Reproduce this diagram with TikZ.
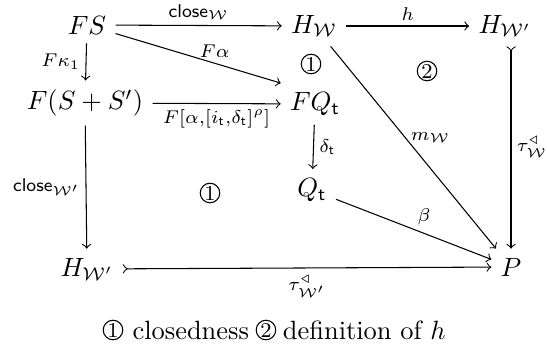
\documentclass[tikz,border=0pt]{standalone}
\usepackage{amsmath,amssymb}
\usetikzlibrary{arrows.meta,positioning,calc}
\newcommand{\clo}{\mathsf{close}}
\newcommand{\tr}{\mathsf{t}}
\begin{document}
\begin{tikzpicture}[x=.0133cm,y=-.0133cm,>=to,
  lbl/.style={font=\scriptsize,inner sep=2pt},
  cell/.style={circle,draw,inner sep=0pt,minimum size=7.4pt,font=\footnotesize}]
\useasboundingbox (0,0) rectangle (547,347);
% objects
\node (fs) at (87,25) {$FS$};
\node (hw) at (314,26) {$H_{\mathcal{W}}$};
\node (hwp) at (505,26) {$H_{\mathcal{W}'}$};
\node (fss) at (85,103) {$F(S+S')$};
\node (fq) at (315,104) {$FQ_{\tr}$};
\node (q) at (312,190) {$Q_{\tr}$};
\node (hwb) at (87,269) {$H_{\mathcal{W}'}$};
\node (p) at (511,267) {$P$};
% arrows
\draw[->] (fs) -- node[lbl,above] {$\clo_{\mathcal{W}}$} (hw);
\draw[->] (hw) -- node[lbl,above] {$h$} (hwp);
\draw[->] (fs) -- node[lbl,above,pos=.6] {$F\alpha$} (fq.north west);
\draw[->] (fs) -- node[lbl,left] {$F\kappa_1$} (fss);
\draw[->] (fss) -- node[below,inner sep=2pt] {$\scriptstyle F[\alpha,[i_{\tr},\delta_{\tr}]^{\rho}]$} (fq);
\draw[->] (fss) -- node[lbl,left] {$\clo_{\mathcal{W}'}$} (hwb);
\draw[->] (fq) -- node[lbl,right] {$\delta_{\tr}$} (q);
\draw[->] (q) -- node[lbl,above right=-1pt] {$\beta$} (p);
\draw[->] (hw) -- node[lbl,right,pos=.45] {$m_{\mathcal{W}}$} (p);
\draw[>->] (hwb) -- node[lbl,below=1pt] {$\tau^{\triangleleft}_{\mathcal{W}'}$} (p);
\draw[>->] (hwp.south -| p.north) -- node[lbl,right] {$\tau^{\triangleleft}_{\mathcal{W}'}$} (p);
% cells
\node[cell] (c1) at (311,64) {1};
\node[cell] (c2) at (427,71) {2};
\node[cell] (c3) at (210,193) {1};
% legend
\node[cell] (k1) at (113,330) {1};
\node[right=0pt of k1] (t1) {closedness};
\node[cell,right=-1pt of t1] (k2) {2};
\node[right=-1pt of k2] (t2) {definition of $h$};
\end{tikzpicture}
\end{document}
